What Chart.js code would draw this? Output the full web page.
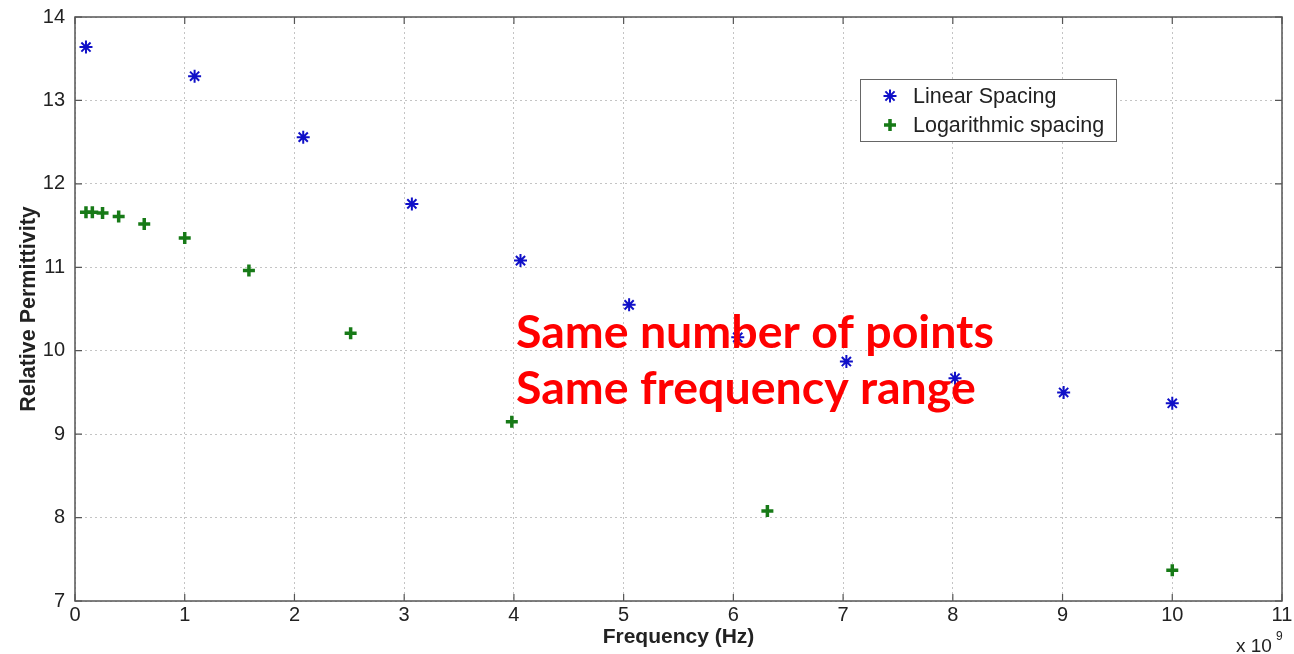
<!DOCTYPE html>
<html>
<head>
<meta charset="utf-8">
<script src="https://cdn.jsdelivr.net/npm/chart.js@4.4.0/dist/chart.umd.min.js"></script>
<style>
html, body { margin: 0; padding: 0; background: #fff; }
#wrap { width: 1294px; height: 654px; }
</style>
</head>
<body>
<div id="wrap"><canvas id="chart" width="1294" height="654"></canvas></div>
<script>
// frequency in units of 10^9 Hz
const linearFreq = [0.1, 1.09, 2.08, 3.07, 4.06, 5.05, 6.04, 7.03, 8.02, 9.01, 10];
const linearEps = [13.64, 13.29, 12.56, 11.76, 11.08, 10.55, 10.16, 9.87, 9.67, 9.50, 9.37];
const logFreq = [0.1, 0.158, 0.251, 0.398, 0.631, 1.0, 1.585, 2.512, 3.981, 6.31, 10];
const logEps = [11.66, 11.66, 11.65, 11.61, 11.52, 11.35, 10.96, 10.21, 9.15, 8.08, 7.37];
const xTicks = [0, 1, 2, 3, 4, 5, 6, 7, 8, 9, 10, 11];
const yTicks = [7, 8, 9, 10, 11, 12, 13, 14];
const seriesNames = ["Linear Spacing", "Logarithmic spacing"];
const noteLines = ["Same number of points", "Same frequency range"];

const BLUE = "#1010c8";
const GREEN = "#177a17";
const AXIS = "#555";
const TEXT = "#222";
const FONT = "'Liberation Sans', Arial, sans-serif";

function toPoints(xs, ys) {
    return xs.map((x, i) => ({ x: x, y: ys[i] }));
}

const extras = {
    id: "extras",
    afterDraw(chart) {
        const ctx = chart.ctx;
        const a = chart.chartArea;
        const sx = chart.scales.x, sy = chart.scales.y;
        ctx.save();

        // box + inward tick marks
        ctx.strokeStyle = AXIS;
        ctx.lineWidth = 1.5;
        ctx.strokeRect(a.left, a.top, a.right - a.left, a.bottom - a.top);
        ctx.lineWidth = 1.2;
        ctx.beginPath();
        xTicks.forEach(v => {
            const px = sx.getPixelForValue(v);
            ctx.moveTo(px, a.bottom); ctx.lineTo(px, a.bottom - 7);
            ctx.moveTo(px, a.top); ctx.lineTo(px, a.top + 7);
        });
        yTicks.forEach(v => {
            const py = sy.getPixelForValue(v);
            ctx.moveTo(a.left, py); ctx.lineTo(a.left + 7, py);
            ctx.moveTo(a.right, py); ctx.lineTo(a.right - 7, py);
        });
        ctx.stroke();

        // legend
        const lx = 860, ly = 79, lw = 256, lh = 62;
        ctx.fillStyle = "#fff";
        ctx.fillRect(lx, ly, lw, lh);
        ctx.strokeStyle = "#666";
        ctx.lineWidth = 1;
        ctx.strokeRect(lx + 0.5, ly + 0.5, lw, lh);
        ctx.font = "21.5px " + FONT;
        ctx.textBaseline = "middle";
        ctx.textAlign = "left";
        chart.data.datasets.forEach((ds, i) => {
            const cy = ly + 17 + i * 29;
            ctx.strokeStyle = ds.borderColor;
            ctx.fillStyle = ds.borderColor;
            ctx.lineWidth = ds.borderWidth;
            Chart.helpers.drawPoint(ctx, { pointStyle: ds.pointStyle, radius: ds.pointRadius, borderWidth: ds.borderWidth }, lx + 30, cy);
            ctx.fillStyle = TEXT;
            ctx.fillText(seriesNames[i], lx + 53, cy + 1);
        });

        // exponent label
        ctx.fillStyle = TEXT;
        ctx.font = "19px " + FONT;
        ctx.textAlign = "left";
        ctx.textBaseline = "alphabetic";
        ctx.fillText("x 10", 1236, 652);
        ctx.font = "12px " + FONT;
        ctx.fillText("9", 1276, 640);

        // red note
        ctx.fillStyle = "#ff0000";
        ctx.font = "bold 46.5px Lato, 'Open Sans', sans-serif";
        ctx.fillText(noteLines[0], 516, 348);
        ctx.fillText(noteLines[1], 516, 404);

        ctx.restore();
    }
};

new Chart(document.getElementById("chart"), {
    type: "scatter",
    data: {
        datasets: [
            {
                label: seriesNames[0],
                data: toPoints(linearFreq, linearEps),
                pointStyle: "star",
                pointRadius: 6.5,
                borderWidth: 2,
                borderColor: BLUE,
                backgroundColor: BLUE,
            },
            {
                label: seriesNames[1],
                data: toPoints(logFreq, logEps),
                pointStyle: "cross",
                pointRadius: 6,
                borderWidth: 3.5,
                borderColor: GREEN,
                backgroundColor: GREEN,
            },
        ],
    },
    options: {
        responsive: false,
        animation: false,
        layout: { padding: { top: 17, right: 12, left: 0, bottom: 0 } },
        plugins: { legend: { display: false }, tooltip: { enabled: false } },
        scales: {
            x: {
                type: "linear",
                min: 0,
                max: 11,
                afterBuildTicks: s => { s.ticks = xTicks.map(v => ({ value: v })); },
                afterFit: s => { s.height = 53; s.paddingLeft = 0; s.paddingRight = 0; },
                grid: { color: "#c4c4c4", drawTicks: false, lineWidth: 1 },
                border: { display: false, dash: [2, 3] },
                ticks: { color: TEXT, padding: 2, font: { family: FONT, size: 20 } },
                title: {
                    display: true,
                    text: "Frequency (Hz)",
                    color: TEXT,
                    padding: { top: 0, bottom: 4 },
                    font: { family: FONT, size: 21, weight: "bold" },
                },
            },
            y: {
                min: 7,
                max: 14,
                afterBuildTicks: s => { s.ticks = yTicks.map(v => ({ value: v })); },
                afterFit: s => { s.width = 75; s.paddingTop = 0; s.paddingBottom = 0; },
                grid: { color: "#c4c4c4", drawTicks: false, lineWidth: 1 },
                border: { display: false, dash: [2, 3] },
                ticks: { color: TEXT, padding: 10, font: { family: FONT, size: 20 } },
                title: {
                    display: true,
                    text: "Relative Permittivity",
                    color: TEXT,
                    padding: { top: 16, bottom: 0 },
                    font: { family: FONT, size: 21.5, weight: "bold" },
                },
            },
        },
    },
    plugins: [extras],
});
</script>
</body>
</html>
